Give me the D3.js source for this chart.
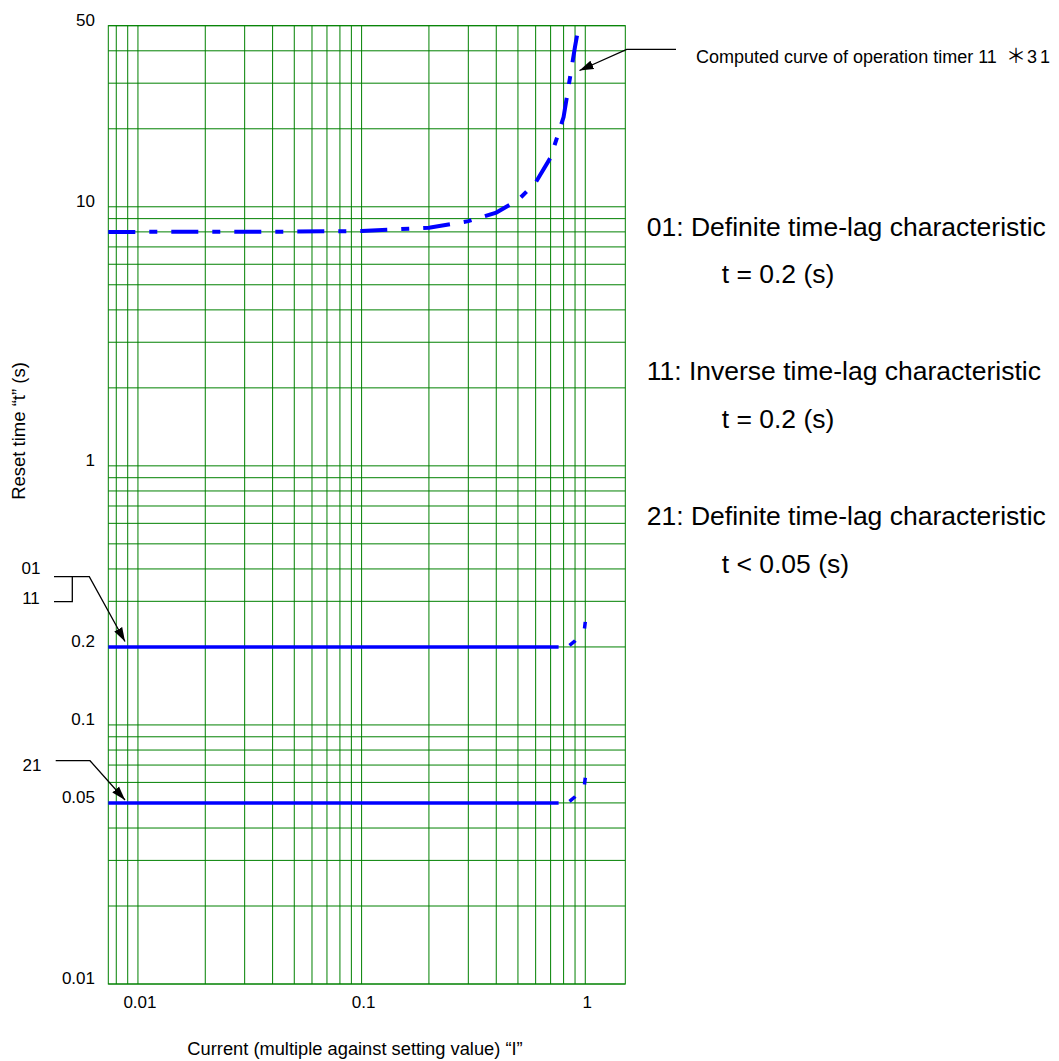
<!DOCTYPE html>
<html>
<head>
<meta charset="utf-8">
<script src="https://cdn.jsdelivr.net/npm/d3@7"></script>
<style>
  html, body { margin: 0; padding: 0; background: #ffffff; }
  svg { display: block; }
  text { font-family: "Liberation Sans", Arial, sans-serif; fill: #000; }
</style>
</head>
<body>
<div id="chart"></div>
<script>
// ---------------- data ----------------
const xDomain = [0.00737, 1.51];          // current multiple (log)
const yDomain = [0.01, 50];               // reset time (log)

const xTickValues = [0.01, 0.1, 1];
const xTickLabels = ["0.01", "0.1", "1"];
const yTickValues = [50, 10, 1, 0.2, 0.1, 0.05, 0.01];
const yTickLabels = ["50", "10", "1", "0.2", "0.1", "0.05", "0.01"];

// computed curve of operation timer 11 (dash-dot)
const curveI = [0.00737, 0.01, 0.05, 0.1, 0.2, 0.3, 0.4, 0.5, 0.6, 0.7, 0.8, 0.9, 0.93];
const curveT = [8.0, 8.0, 8.02, 8.06, 8.3, 8.8, 9.5, 10.6, 12.4, 15.5, 22.2, 41.5, 48.5];

// 01 / 11 : definite 0.2 s
const line01I = [0.00737, 0.76];
const line01T = [0.2, 0.2];
const rise01I = [0.76, 0.85, 0.9, 0.95, 0.99, 1.0];
const rise01T = [0.2, 0.203, 0.211, 0.222, 0.232, 0.25];

// 21 : definite < 0.05 s
const line21I = [0.00737, 0.76];
const line21T = [0.05, 0.05];
const rise21I = [0.76, 0.85, 0.9, 0.95, 0.99, 1.0];
const rise21T = [0.05, 0.0507, 0.0528, 0.0555, 0.058, 0.0625];

const notes = [
  "01: Definite time-lag characteristic", "t = 0.2 (s)",
  "11: Inverse time-lag characteristic",  "t = 0.2 (s)",
  "21: Definite time-lag characteristic", "t < 0.05 (s)"
];
const xTitle = "Current (multiple against setting value) \u201CI\u201D";
const yTitle = "Reset time \u201Ct\u201D (s)";
const curveNoteMain = "Computed curve of operation timer 11";
const curveNoteStar = "\uFF0A";
const curveNoteRef = "31";

// ---------------- layout ----------------
const W = 1059, H = 1061;
const L = 108.3, R = 625.3, T = 25.7, B = 984;
const green = "#008000", blue = "#0000ff";

const svg = d3.select("#chart").append("svg")
  .attr("width", W).attr("height", H)
  .attr("viewBox", `0 0 ${W} ${H}`);

svg.append("rect").attr("width", W).attr("height", H).attr("fill", "#fff");

const x = d3.scaleLog().domain(xDomain).range([L, R]);
const y = d3.scaleLog().domain(yDomain).range([B, T]);

// arrow marker
svg.append("defs").append("marker")
  .attr("id", "arrow").attr("markerUnits", "userSpaceOnUse")
  .attr("viewBox", "0 -5 14 10").attr("refX", 14).attr("refY", 0)
  .attr("markerWidth", 14).attr("markerHeight", 10).attr("orient", "auto")
  .append("path").attr("d", "M0,-4.5L14,0L0,4.5Z").attr("fill", "#000");

// ---------------- grid ----------------
const grid = svg.append("g");
grid.selectAll("line.v").data(x.ticks()).join("line")
  .attr("x1", d => x(d)).attr("x2", d => x(d))
  .attr("y1", T).attr("y2", B)
  .attr("stroke", green).attr("stroke-width", 1);
grid.selectAll("line.h").data(y.ticks()).join("line")
  .attr("x1", L).attr("x2", R)
  .attr("y1", d => y(d)).attr("y2", d => y(d))
  .attr("stroke", green).attr("stroke-width", 1);
grid.append("rect")
  .attr("x", x(xDomain[0])).attr("y", y(yDomain[1]))
  .attr("width", x(xDomain[1]) - x(xDomain[0]))
  .attr("height", y(yDomain[0]) - y(yDomain[1]))
  .attr("fill", "none").attr("stroke", green).attr("stroke-width", 1);

// ---------------- tick labels ----------------
svg.append("g").selectAll("text").data(yTickValues).join("text")
  .attr("x", 95).attr("y", d => y(d))
  .attr("text-anchor", "end").attr("font-size", 17)
  .text((d, i) => yTickLabels[i]);

svg.append("g").selectAll("text").data(xTickValues).join("text")
  .attr("x", d => x(d) + 2).attr("y", 1008)
  .attr("text-anchor", "middle").attr("font-size", 17)
  .text((d, i) => xTickLabels[i]);

svg.append("text").attr("x", 355).attr("y", 1055)
  .attr("text-anchor", "middle").attr("font-size", 18.3).text(xTitle);

svg.append("text")
  .attr("transform", "translate(25,431) rotate(-90)")
  .attr("text-anchor", "middle").attr("font-size", 18.5).text(yTitle);

// ---------------- series ----------------
const line = d3.line().x(d => x(d[0])).y(d => y(d[1]));
const zip = (a, b) => a.map((v, i) => [v, b[i]]);

svg.append("path").datum(zip(curveI, curveT))
  .attr("d", line).attr("fill", "none")
  .attr("stroke", blue).attr("stroke-width", 4)
  .attr("stroke-dasharray", "27,14,8,14");

[[line01I, line01T], [line21I, line21T]].forEach(([a, b]) => {
  svg.append("path").datum(zip(a, b))
    .attr("d", line).attr("fill", "none")
    .attr("stroke", blue).attr("stroke-width", 3.5);
});
[[rise01I, rise01T], [rise21I, rise21T]].forEach(([a, b]) => {
  svg.append("path").datum(zip(a, b))
    .attr("d", line).attr("fill", "none")
    .attr("stroke", blue).attr("stroke-width", 3.5)
    .attr("stroke-dasharray", "7.5,15.5").attr("stroke-dashoffset", 12);
});

// ---------------- annotations ----------------
const ann = svg.append("g").attr("fill", "none").attr("stroke", "#000").attr("stroke-width", 1.3);
ann.append("polyline").attr("points", "676,49.3 626.7,49.3 579.5,70.5").attr("marker-end", "url(#arrow)");
ann.append("polyline").attr("points", "54,576.7 89.3,576.7 125,641.5").attr("marker-end", "url(#arrow)");
ann.append("polyline").attr("points", "54,601.7 72.3,601.7 72.3,576.7");
ann.append("polyline").attr("points", "55.7,760.7 90,760.7 125,800").attr("marker-end", "url(#arrow)");

const cn = svg.append("text").attr("x", 696).attr("y", 63.3).attr("font-size", 18);
cn.append("tspan").text(curveNoteMain);
cn.append("tspan").attr("x", 1006).attr("font-size", 20)
  .style("font-family", "'Noto Sans CJK JP', 'Noto Sans CJK SC', sans-serif")
  .text(curveNoteStar);
cn.append("tspan").attr("x", 1027).attr("letter-spacing", 3).text(curveNoteRef);

svg.append("text").attr("x", 31).attr("y", 574).attr("text-anchor", "middle").attr("font-size", 17).text("01");
svg.append("text").attr("x", 31).attr("y", 604).attr("text-anchor", "middle").attr("font-size", 17).text("11");
svg.append("text").attr("x", 32).attr("y", 771).attr("text-anchor", "middle").attr("font-size", 17).text("21");

const noteX = [646.7, 721.7, 646.7, 721.7, 646.7, 721.7];
const noteY = [235.7, 283.3, 380, 428.3, 525, 572.7];
svg.append("g").selectAll("text").data(notes).join("text")
  .attr("x", (d, i) => noteX[i]).attr("y", (d, i) => noteY[i])
  .attr("font-size", 26.5).text(d => d);
</script>
</body>
</html>
